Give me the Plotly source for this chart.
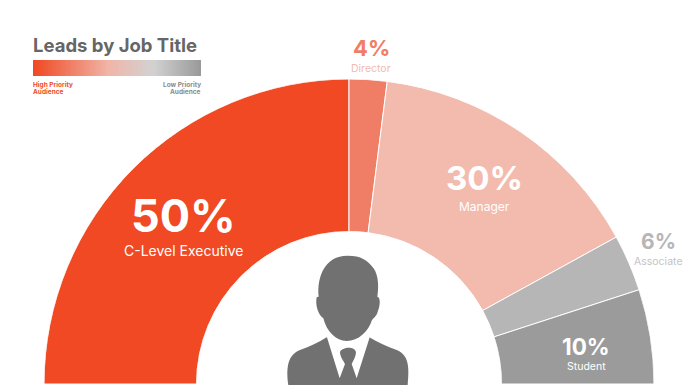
import plotly.graph_objects as go

W, H = 699, 392
labels = ["C-Level Executive", "Director", "Manager", "Associate", "Student"]
shares = [50, 4, 30, 6, 10]
colors = ["#F04923", "#F07D65", "#F3BBAE", "#B6B6B6", "#9B9B9B"]
FONT = "Inter"
GREY = "#717171"

# cumulative slice placement (100 % spans the half circle)
thetas, widths, acc = [], [], 0
for s in shares:
    widths.append(s * 1.8)
    thetas.append((acc + s / 2) * 1.8)
    acc += s

fig = go.Figure()
fig.add_trace(go.Barpolar(
    r=[1] * len(shares), theta=thetas, width=widths, text=labels,
    marker=dict(color=colors, opacity=1, line=dict(color="white", width=1)),
    hoverinfo="text", showlegend=False))

# gradient key
grad = [list(range(0, 101))]
fig.add_trace(go.Heatmap(
    z=grad, xaxis="x", yaxis="y", showscale=False, hoverinfo="skip",
    colorscale=[[0, "#F04923"], [0.45, "#F0B5A8"], [0.72, "#D2D2D2"], [1, "#9A9A9A"]]))

def px(x, y):
    return x / W, 1 - y / H

def P(pts):
    """Path in paper coords from icon-zoom coords: tuples of letter + pairs."""
    out = []
    for cmd in pts:
        c, vals = cmd[0], cmd[1:]
        s = c
        for i in range(0, len(vals), 2):
            a, b = px(250 + vals[i] / 3, 240 + vals[i + 1] / 3)
            s += f"{a:.5f},{b:.5f} "
        out.append(s)
    return "".join(out) + "Z"

body = [("M", 115, 435), ("C", 108, 385, 112, 345, 150, 330), ("C", 180, 320, 205, 308, 230, 292),
        ("L", 358, 292), ("C", 385, 308, 410, 320, 440, 330), ("C", 478, 345, 478, 385, 473, 435)]
shirt = [("M", 229, 286), ("L", 269, 415), ("L", 285, 372), ("L", 305, 372), ("L", 320, 415), ("L", 361, 286)]
knot = [("M", 270, 336), ("C", 275, 322, 312, 316, 318, 336), ("C", 318, 350, 310, 362, 305, 372),
        ("L", 285, 372), ("C", 280, 362, 270, 350, 270, 336)]
head = [("M", 292, 47), ("C", 335, 47, 352, 62, 365, 78), ("C", 383, 95, 388, 130, 382, 170),
        ("C", 392, 172, 391, 195, 383, 215), ("C", 380, 228, 372, 232, 366, 240),
        ("C", 355, 275, 325, 303, 290, 303), ("C", 258, 303, 230, 275, 220, 235),
        ("C", 205, 225, 195, 195, 200, 172), ("C", 200, 172, 204, 170, 206, 170),
        ("C", 200, 110, 225, 47, 292, 47)]
shapes = []
for path, col in [(body, GREY), (shirt, "white"), (knot, GREY), (head, GREY)]:
    shapes.append(dict(type="path", xref="paper", yref="paper", path=P(path),
                       fillcolor=col, line=dict(width=0), layer="above"))

def note(x, y, text, size, color, bold=False, anchor="center"):
    x0, y0 = px(x, y)
    return dict(xref="paper", yref="paper", x=x0, y=y0, xanchor=anchor, yanchor="middle",
                text=f"<b>{text}</b>" if bold else text, showarrow=False, align="right" if anchor == "right" else "left",
                font=dict(family=FONT, size=size, color=color))

annotations = [
    note(31, 45, "Leads by Job Title", 18.5, "#666666", True, "left"),
    note(31, 85, "High Priority", 6.5, "#F04923", True, "left"),
    note(31, 92, "Audience", 6.5, "#F04923", True, "left"),
    note(203, 85, "Low Priority", 6.5, "#8A8A8A", True, "right"),
    note(203, 92, "Audience", 6.5, "#8A8A8A", True, "right"),
    note(183.5, 215, f"{shares[0]}%", 45, "white", True),
    note(183, 251, labels[0], 14, "white"),
    note(371, 48, f"{shares[1]}%", 22, "#F07D65", True),
    note(371, 69, labels[1], 10.5, "#F3BBAE"),
    note(484, 178, f"{shares[2]}%", 33, "white", True),
    note(484, 206, labels[2], 12, "white"),
    note(658, 241, f"{shares[3]}%", 21, "#B6B6B6", True),
    note(658, 261, labels[3], 10.5, "#C4C4C4"),
    note(586, 346, f"{shares[4]}%", 22.5, "white", True),
    note(586, 366, labels[4], 10.5, "white"),
]

fig.update_layout(
    width=W, height=H, autosize=False, margin=dict(l=0, r=0, t=0, b=0),
    paper_bgcolor="white", plot_bgcolor="white", showlegend=False,
    polar=dict(
        domain=dict(x=[44 / W, 654 / W], y=[1 - 384 / H, 1 - 79 / H]),
        sector=[0, 180], hole=0.5, bgcolor="white",
        angularaxis=dict(direction="clockwise", rotation=180, visible=False, showgrid=False),
        radialaxis=dict(range=[0, 1], visible=False, showgrid=False)),
    xaxis=dict(domain=[33 / W, 201 / W], visible=False, fixedrange=True),
    yaxis=dict(domain=[1 - 76 / H, 1 - 60 / H], visible=False, fixedrange=True),
    shapes=shapes, annotations=annotations)

fig.write_html("out.html", config={"displayModeBar": False},
               post_script="document.body.style.margin='0';document.body.style.overflow='hidden';")
